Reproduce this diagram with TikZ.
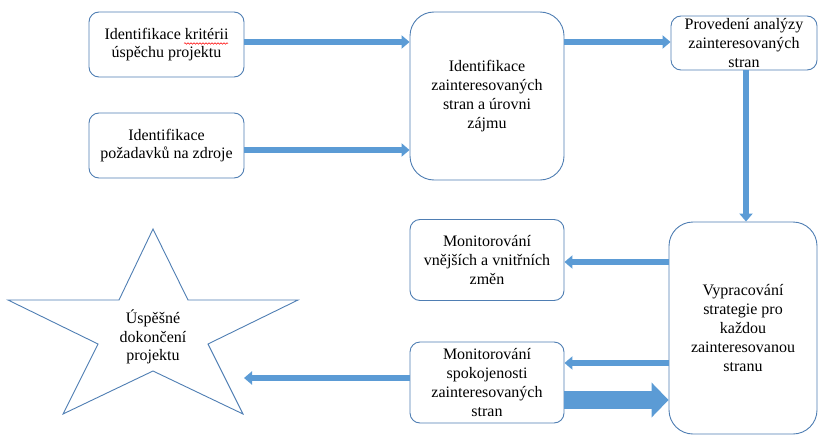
\documentclass[tikz,border=0pt]{standalone}
\usepackage{fontspec}
\setmainfont{Liberation Serif}
\usetikzlibrary{arrows.meta,calc,decorations.pathmorphing}
\definecolor{boxline}{HTML}{4F7EB3}
\definecolor{arrowfill}{HTML}{5B9BD5}
\tikzset{
  box/.style={draw=boxline, line width=0.9pt, rounded corners=10pt, fill=white,
    align=center, inner sep=0pt, font=\fontsize{16}{18.8}\selectfont},
  bigbox/.style={box, rounded corners=24pt},
  flow/.style={draw=arrowfill, line width=6.5pt, -{Triangle[length=8pt,width=13pt]}},
  bigflow/.style={draw=arrowfill, line width=18pt, -{Triangle[length=17pt,width=34pt]}},
}
\begin{document}
\begin{tikzpicture}[x=1pt,y=-1pt]
\useasboundingbox (0,0) rectangle (818,436);
\node[box, minimum width=155pt, minimum height=65pt] (A) at (166.5,44.5) {Identifikace kritérii\\úspěchu projektu};
\node[box, minimum width=155pt, minimum height=65pt] (B) at (166.5,145.5) {Identifikace\\požadavků na zdroje};
\node[bigbox, minimum width=154pt, minimum height=168pt] (C) at (487,96) {Identifikace\\zainteresovaných\\stran a úrovni\\zájmu};
\node[box, minimum width=146pt, minimum height=54pt] (D) at (744,43) {Provedení analýzy\\zainteresovaných\\stran};
\node[bigbox, minimum width=148pt, minimum height=212pt] (E) at (743,328) {Vypracování\\strategie pro\\každou\\zainteresovanou\\stranu};
\node[box, minimum width=154pt, minimum height=81pt] (F) at (487,260) {Monitorování\\vnějších a vnitřních\\změn};
\node[box, minimum width=154pt, minimum height=81pt] (G) at (487,382.5) {Monitorování\\spokojenosti\\zainteresovaných\\stran};
% star
\draw[boxline, line width=0.9pt, fill=white]
  (153,229) -- (119,300) -- (8,300) -- (98,344) -- (63,414) -- (153,371)
  -- (243,414) -- (208,344) -- (298,300) -- (188,300) -- cycle;
\node[align=center, inner sep=0pt, font=\fontsize{16}{18.8}\selectfont] (S) at (153,337) {Úspěšné\\dokončení\\projektu};
\coordinate (Sin) at (244,378);
% spell-check underline
\draw[red, line width=0.5pt, decorate, decoration={snake, amplitude=0.8pt, segment length=3pt}] (184,43.5) -- (228,43.5);
% connectors
\draw[flow] (A.east |- 0,42) -- (C.west |- 0,42);
\draw[flow] (B.east |- 0,150) -- (C.west |- 0,150);
\draw[flow] (C.east |- 0,42) -- (D.west |- 0,42);
\draw[flow] (D.south -| 746,0) -- (E.north -| 746,0);
\draw[flow] (E.west |- 0,262) -- (F.east |- 0,262);
\draw[flow] (E.west |- 0,363) -- (G.east |- 0,363);
\draw[bigflow] (G.east |- 0,400) -- (E.west |- 0,400);
\draw[flow] (G.west |- 0,378) -- (Sin);
\end{tikzpicture}
\end{document}
